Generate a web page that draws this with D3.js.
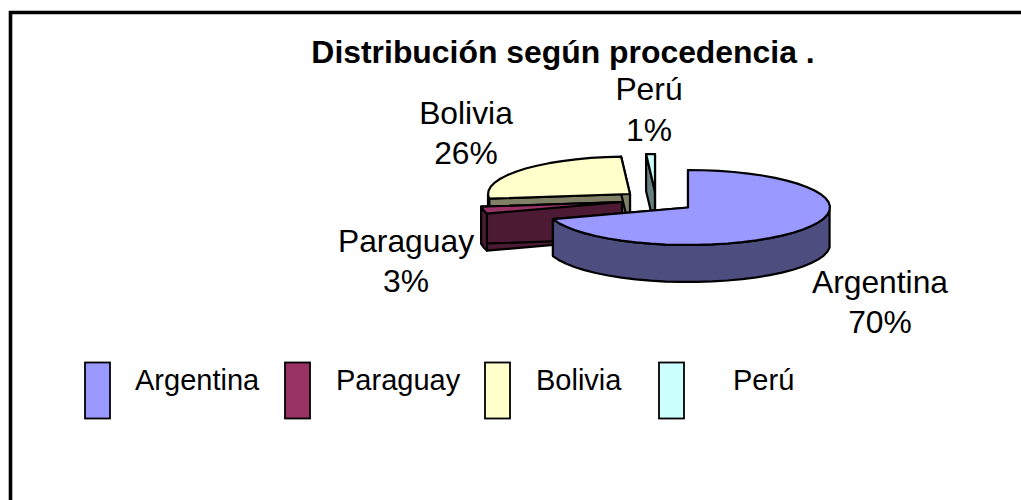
<!DOCTYPE html>
<html><head><meta charset="utf-8">
<script src="https://cdn.jsdelivr.net/npm/d3@7/dist/d3.min.js"></script>
<style>html,body{margin:0;padding:0;background:#fff}svg{display:block}text{font-family:"Liberation Sans",Arial,sans-serif;fill:#000}</style>
</head><body><div id="c"></div>
<script>
const categories = ["Argentina","Paraguay","Bolivia","Perú"];
const values = [70,3,26,1];
const percentLabels = ["70%","3%","26%","1%"];
const topColors = ["#9999ff","#993366","#ffffcc","#ccffff"];
const sideColors = ["#4d4d80","#4d1a33","#808066","#668080"];
const titleText = "Distribución según procedencia .";

const W=1021,H=500,rx=142,ry=37.5,depth=37;
const centers=[[688,207.5],[622,202],[630,194],[655,191.5]];
const labelPos=[[880,293,333],[406,252,292],[466,124,164],[649,100,141]];
const legendX=[85,285,485,659], legendTextX=[135,336,536,733];

const svg=d3.select("#c").append("svg").attr("width",W).attr("height",H);
svg.append("path").attr("d",d3.line()([[10.5,H+5],[10.5,12.5],[W+5,12.5]])).attr("fill","none").attr("stroke","#000").attr("stroke-width",3.6);

const arcs=d3.pie().sort(null).value(d=>d)(values);
const pt=(a,c,dy=0)=>[c[0]+rx*Math.sin(a),c[1]-ry*Math.cos(a)+dy];
const line=d3.line();
const STEP=Math.PI/28;
const angs=(a0,a1)=>{const n=Math.max(1,Math.ceil((a1-a0)/STEP));const s=d3.scaleLinear().domain([0,n]).range([a0,a1]);return d3.range(n+1).map(s);};
const stroke=(sel)=>sel.attr("stroke","#000").attr("stroke-width",2.2).attr("stroke-linejoin","round");

function drawSlice(i){
  const a=arcs[i],c=centers[i],g=svg.append("g");
  const as=angs(a.startAngle,a.endAngle);
  const wall=(p,q,col)=>stroke(g.append("path").attr("d",line([p,q,[q[0],q[1]+depth],[p[0],p[1]+depth]])+"Z").attr("fill",col));
  const s=pt(a.startAngle,c),e=pt(a.endAngle,c);
  wall(s,c,sideColors[i]);
  wall(c,e,sideColors[i]);
  const front=as.filter(t=>Math.cos(t)<=0);
  if(front.length>1){
    const top=front.map(t=>pt(t,c)),bot=front.map(t=>pt(t,c,depth)).reverse();
    stroke(g.append("path").attr("d",line(top.concat(bot))+"Z").attr("fill",sideColors[i]));
  }
  stroke(g.append("path").attr("d",line(as.map(t=>pt(t,c)).concat([c]))+"Z").attr("fill",topColors[i]));
}
[2,3,1,0].forEach(drawSlice);

svg.append("text").attr("x",563).attr("y",63).attr("text-anchor","middle").attr("font-size",31.9).attr("font-weight","bold").text(titleText);
categories.forEach((n,i)=>{
  const [x,y1,y2]=labelPos[i];
  svg.append("text").attr("x",x).attr("y",y1).attr("text-anchor","middle").attr("font-size",31.8).text(n);
  svg.append("text").attr("x",x).attr("y",y2).attr("text-anchor","middle").attr("font-size",31.8).text(percentLabels[i]);
  svg.append("rect").attr("x",legendX[i]).attr("y",362.5).attr("width",25).attr("height",56).attr("fill",topColors[i]).attr("stroke","#000").attr("stroke-width",1.8);
  svg.append("text").attr("x",legendTextX[i]).attr("y",390).attr("font-size",29).text(n);
});
</script></body></html>
